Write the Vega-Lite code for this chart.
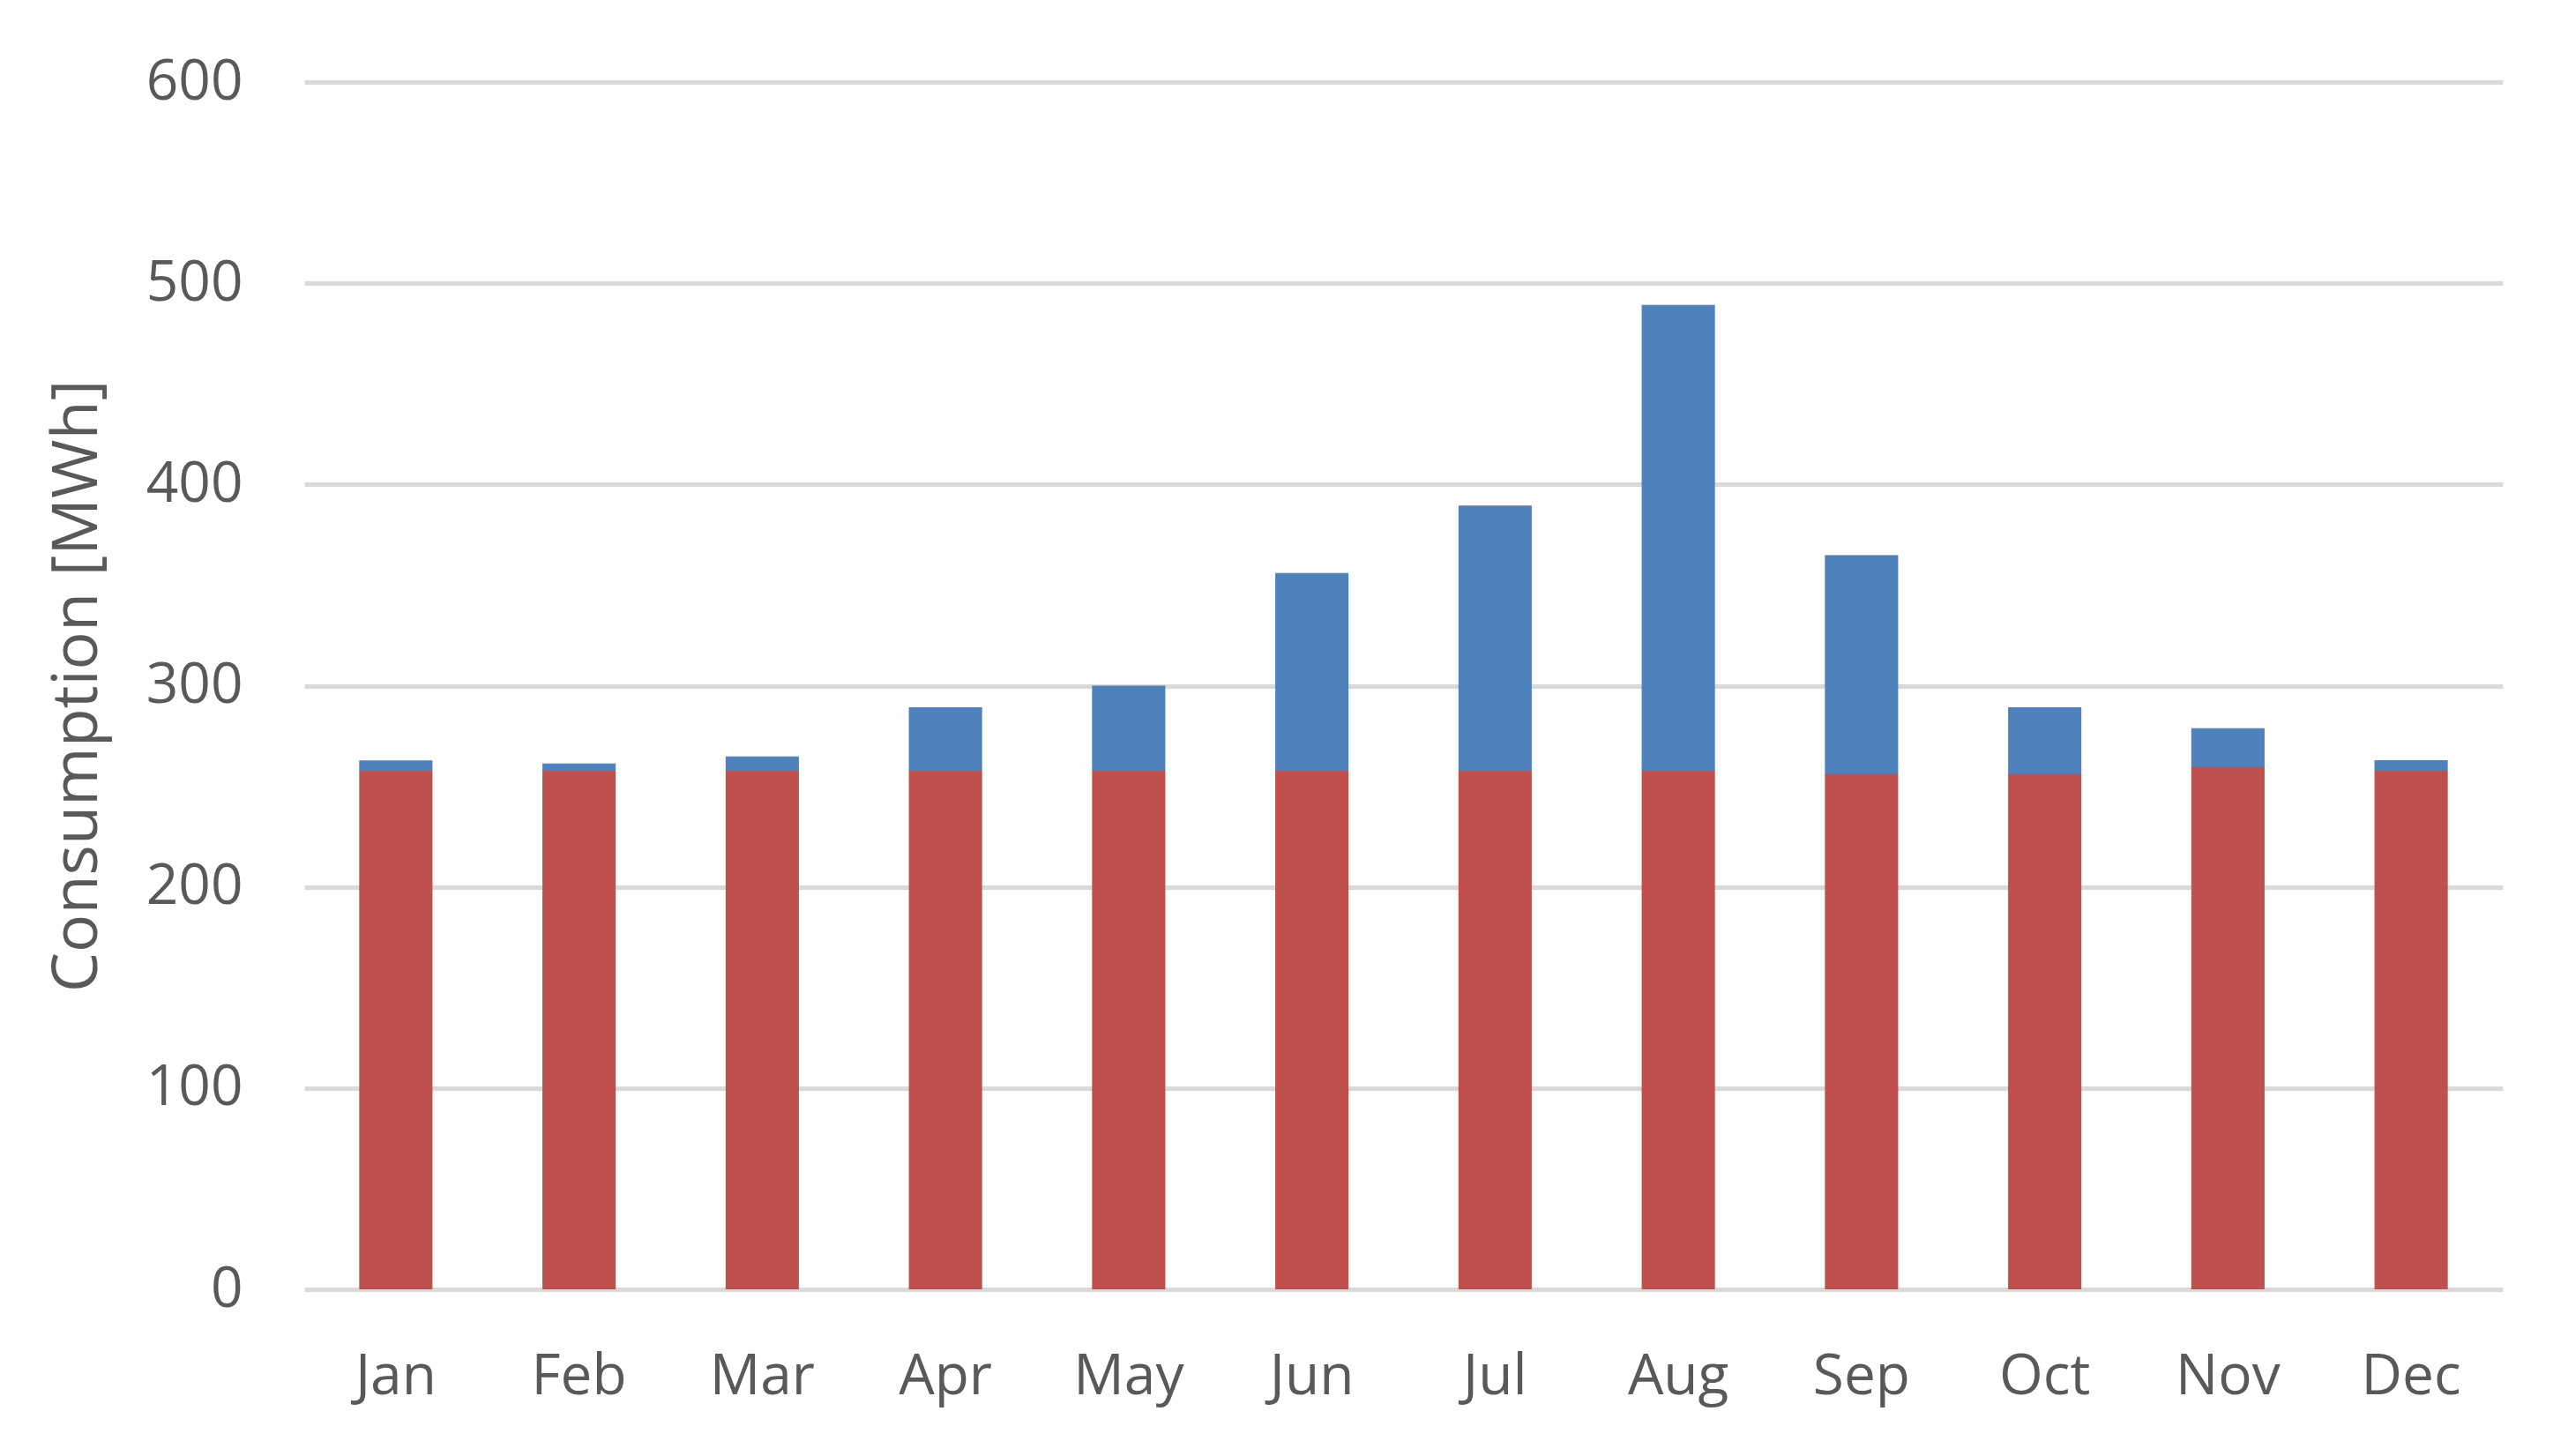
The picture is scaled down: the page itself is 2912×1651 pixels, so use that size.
{
  "$schema": "https://vega.github.io/schema/vega-lite/v6.json",
  "autosize": {"type": "none"},
  "padding": {"left": 345, "top": 93, "right": 74, "bottom": 189},
  "width": 2493,
  "height": 1369,
  "background": "white",
  "data": {
    "values": [
      {"month": "Jan", "series": "Base load", "value": 257.7},
      {"month": "Jan", "series": "Seasonal load", "value": 5.2},
      {"month": "Feb", "series": "Base load", "value": 257.7},
      {"month": "Feb", "series": "Seasonal load", "value": 3.6},
      {"month": "Mar", "series": "Base load", "value": 257.7},
      {"month": "Mar", "series": "Seasonal load", "value": 7.1},
      {"month": "Apr", "series": "Base load", "value": 257.7},
      {"month": "Apr", "series": "Seasonal load", "value": 31.6},
      {"month": "May", "series": "Base load", "value": 257.7},
      {"month": "May", "series": "Seasonal load", "value": 42.3},
      {"month": "Jun", "series": "Base load", "value": 257.7},
      {"month": "Jun", "series": "Seasonal load", "value": 98.3},
      {"month": "Jul", "series": "Base load", "value": 257.7},
      {"month": "Jul", "series": "Seasonal load", "value": 131.8},
      {"month": "Aug", "series": "Base load", "value": 257.7},
      {"month": "Aug", "series": "Seasonal load", "value": 231.5},
      {"month": "Sep", "series": "Base load", "value": 256.0},
      {"month": "Sep", "series": "Seasonal load", "value": 108.9},
      {"month": "Oct", "series": "Base load", "value": 256.0},
      {"month": "Oct", "series": "Seasonal load", "value": 33.3},
      {"month": "Nov", "series": "Base load", "value": 259.5},
      {"month": "Nov", "series": "Seasonal load", "value": 19.3},
      {"month": "Dec", "series": "Base load", "value": 257.7},
      {"month": "Dec", "series": "Seasonal load", "value": 5.3}
    ]
  },
  "mark": {"type": "bar"},
  "encoding": {
    "x": {
      "field": "month",
      "type": "nominal",
      "sort": ["Jan","Feb","Mar","Apr","May","Jun","Jul","Aug","Sep","Oct","Nov","Dec"],
      "scale": {"paddingInner": 0.6, "paddingOuter": 0.3},
      "axis": {
        "title": null,
        "labelAngle": 0,
        "domain": false,
        "ticks": false,
        "grid": false,
        "labelFont": "Open Sans",
        "labelFontSize": 64,
        "labelColor": "#595959",
        "labelPadding": 67
      }
    },
    "y": {
      "field": "value",
      "type": "quantitative",
      "stack": "zero",
      "scale": {"domain": [0, 600], "nice": false},
      "axis": {
        "title": "Consumption [MWh]",
        "values": [0, 100, 200, 300, 400, 500, 600],
        "domain": false,
        "ticks": false,
        "grid": true,
        "gridColor": "#D9D9D9",
        "gridWidth": 5,
        "labelFont": "Open Sans",
        "labelFontSize": 64,
        "labelColor": "#595959",
        "labelPadding": 70,
        "titleFont": "Open Sans",
        "titleFontSize": 72,
        "titleFontWeight": "normal",
        "titleColor": "#595959",
        "titlePadding": 41
      }
    },
    "color": {
      "field": "series",
      "type": "nominal",
      "scale": {"domain": ["Base load", "Seasonal load"], "range": ["#C0504D", "#4F81BD"]},
      "legend": null
    },
    "order": {"field": "series", "type": "nominal", "sort": "ascending"}
  },
  "config": {"view": {"stroke": null}}
}
